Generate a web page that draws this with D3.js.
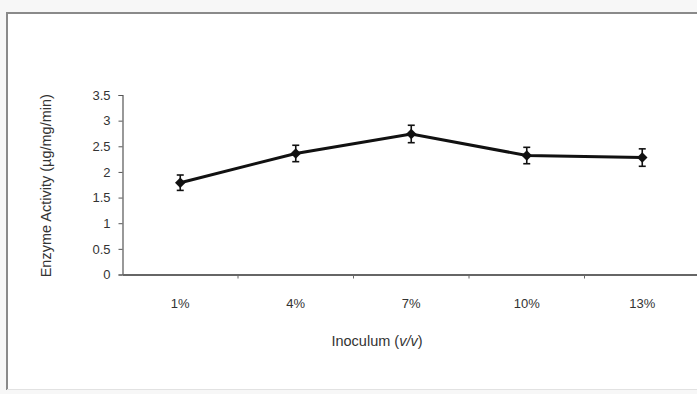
<!DOCTYPE html>
<html>
<head>
<meta charset="utf-8">
<script src="https://cdn.jsdelivr.net/npm/d3@7"></script>
<style>
  html, body { margin: 0; padding: 0; background: #f7f7f7; }
  svg { display: block; }
  text { font-family: Arial, "Liberation Sans", sans-serif; fill: #2a2a2a; }
</style>
</head>
<body>
<script>
// Enzyme activity by inoculum size
const categories = ["1%", "4%", "7%", "10%", "13%"];
const activity = [1.79, 2.36, 2.74, 2.32, 2.28];
const errors = [0.15, 0.16, 0.17, 0.16, 0.17];
const yTicks = [0, 0.5, 1, 1.5, 2, 2.5, 3, 3.5];

const W = 697, H = 394;
const svg = d3.select("body").append("svg").attr("width", W).attr("height", H);

// chart frame: white panel, grey top and left edges, faint bottom edge
svg.append("rect").attr("x", 7).attr("y", 13).attr("width", W).attr("height", 376).attr("fill", "#fff");
svg.append("line").attr("x1", 7).attr("x2", W).attr("y1", 13).attr("y2", 13).attr("stroke", "#8a8a8a").attr("stroke-width", 2);
svg.append("line").attr("x1", 7).attr("x2", 7).attr("y1", 12).attr("y2", 390).attr("stroke", "#8a8a8a").attr("stroke-width", 2);
svg.append("line").attr("x1", 7).attr("x2", W).attr("y1", 389.5).attr("y2", 389.5).attr("stroke", "#e2e2e2").attr("stroke-width", 1);

const plotLeft = 122.5, plotRight = 700, plotTop = 95, plotBottom = 274.5;

const x = d3.scaleBand().domain(categories).range([plotLeft, plotRight]);
const y = d3.scaleLinear().domain([0, 3.5]).range([plotBottom, plotTop]);

// y axis
const yAxis = svg.append("g").attr("transform", `translate(${plotLeft},0)`)
  .call(d3.axisLeft(y).tickValues(yTicks).tickSize(4).tickPadding(8).tickFormat(d3.format("")));
yAxis.select(".domain").attr("stroke", "#555").attr("stroke-width", 1.2);
yAxis.selectAll(".tick line").attr("stroke", "#555");
yAxis.selectAll("text").attr("font-size", 13).style("fill", "#333");

// x axis
const xAxis = svg.append("g").attr("transform", `translate(0,${plotBottom})`)
  .call(d3.axisBottom(x).tickSize(0).tickPadding(24));
xAxis.select(".domain").attr("stroke", "#666").attr("stroke-width", 2);
xAxis.selectAll("text").attr("font-size", 13).style("fill", "#333");
// tick marks between categories
xAxis.selectAll(".sep").data(categories).enter().append("line")
  .attr("x1", d => x(d) + x.bandwidth()).attr("x2", d => x(d) + x.bandwidth())
  .attr("y1", 0).attr("y2", 4).attr("stroke", "#666");

// axis titles
svg.append("text").attr("transform", `translate(51,${(plotTop + plotBottom) / 2 + 1}) rotate(-90)`)
  .attr("text-anchor", "middle").attr("font-size", 14.5).style("fill", "#333")
  .text("Enzyme Activity (µg/mg/min)");

const xt = svg.append("text").attr("x", 377).attr("y", 346).attr("text-anchor", "middle")
  .attr("font-size", 14.5).style("fill", "#333");
xt.append("tspan").text("Inoculum (");
xt.append("tspan").attr("font-style", "italic").text("v/v");
xt.append("tspan").text(")");

const cx = d => x(d) + x.bandwidth() / 2;
const pts = categories.map((c, i) => ({ c, v: activity[i], e: errors[i] }));

// line
svg.append("path").datum(pts)
  .attr("fill", "none").attr("stroke", "#111").attr("stroke-width", 3)
  .attr("d", d3.line().x(d => cx(d.c)).y(d => y(d.v)));

// error bars
const eb = svg.append("g").attr("stroke", "#111").attr("stroke-width", 1.6);
pts.forEach(d => {
  eb.append("line").attr("x1", cx(d.c)).attr("x2", cx(d.c)).attr("y1", y(d.v + d.e)).attr("y2", y(d.v - d.e));
  [d.v + d.e, d.v - d.e].forEach(v => eb.append("line")
    .attr("x1", cx(d.c) - 3.5).attr("x2", cx(d.c) + 3.5).attr("y1", y(v)).attr("y2", y(v)));
});

// diamond markers
svg.append("g").selectAll("path").data(pts).enter().append("path")
  .attr("transform", d => `translate(${cx(d.c)},${y(d.v)})`)
  .attr("d", d3.symbol().type(d3.symbolDiamond2).size(70))
  .attr("fill", "#111");
</script>
</body>
</html>
